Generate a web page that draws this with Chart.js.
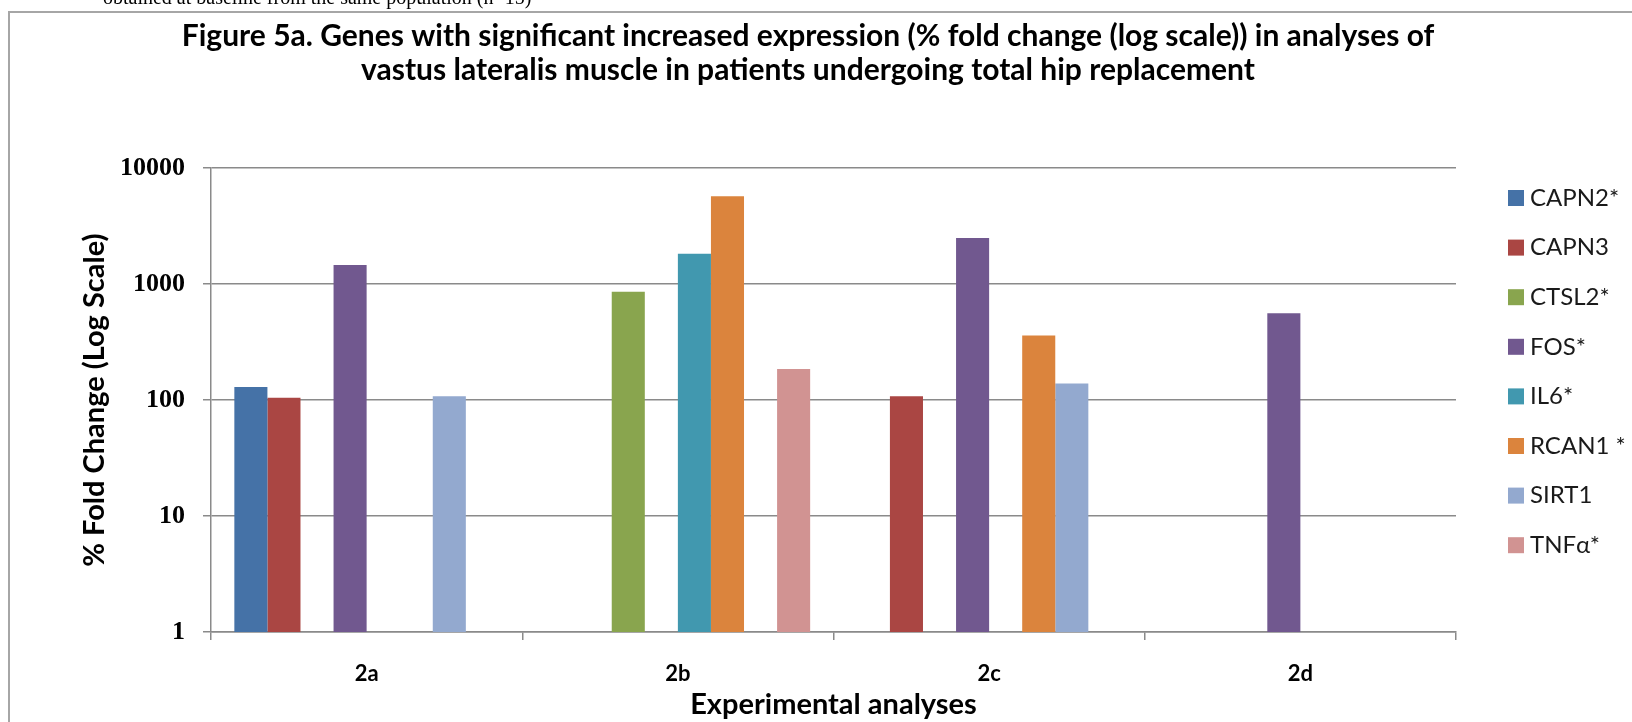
<!DOCTYPE html>
<html>
<head>
<meta charset="utf-8">
<script src="https://cdn.jsdelivr.net/npm/chart.js@4.4.0/dist/chart.umd.min.js"></script>
<style>
  html, body { margin: 0; padding: 0; background: #fff; overflow: hidden; }
  #wrap { position: relative; width: 1632px; height: 722px; }
  #note { position: absolute; left: 103px; top: -13px; font: 20px "Liberation Serif", serif; line-height: 20px; color: #000; white-space: nowrap; }
  #frame { position: absolute; left: 8px; top: 11px; width: 1700px; height: 800px; border: 2px solid #a6a6a6; pointer-events: none; }
  canvas { position: absolute; left: 0; top: 0; }
</style>
</head>
<body>
<div id="wrap">
  <canvas id="myChart" width="1632" height="722"></canvas>
  <div id="frame"></div>
  <div id="note">obtained at baseline from the same population (n=15)</div>
</div>
<script>
const categories = ["2a", "2b", "2c", "2d"];
const genes = ["CAPN2*", "CAPN3", "CTSL2*", "FOS*", "IL6*", "RCAN1 *", "SIRT1", "TNFα*"];
const capn2 = [130, null, null, null];
const capn3 = [105, null, 108, null];
const ctsl2 = [null, 860, null, null];
const fos = [1460, null, 2500, 560];
const il6 = [null, 1830, null, null];
const rcan1 = [null, 5740, 360, null];
const sirt1 = [108, null, 139, null];
const tnfa = [null, 185, null, null];
const yTicks = [1, 10, 100, 1000, 10000];
const colors = ["#4572A7", "#AA4643", "#89A54E", "#71588F", "#4198AF", "#DB843D", "#93A9CF", "#D19392"];

const series = [capn2, capn3, ctsl2, fos, il6, rcan1, sirt1, tnfa];
const gridColor = "#8a8a8a";

// legend drawn to the right of the plot, Excel style
const sideLegend = {
  id: "sideLegend",
  afterDraw(chart) {
    const ctx = chart.ctx;
    const x = chart.chartArea.right + 52;
    ctx.save();
    ctx.font = "24px Lato";
    ctx.textBaseline = "middle";
    ctx.textAlign = "left";
    chart.data.datasets.forEach((ds, i) => {
      const y = 198 + i * 49.6;
      ctx.fillStyle = ds.backgroundColor;
      ctx.fillRect(x, y - 8, 16, 16);
      ctx.fillStyle = "#1a1a1a";
      ctx.fillText(ds.label, x + 22, y);
    });
    ctx.restore();
  },
};

const ctx = document.getElementById("myChart").getContext("2d");
const myChart = new Chart(ctx, {
  type: "bar",
  data: {
    labels: categories,
    datasets: series.map((values, i) => ({
      label: genes[i],
      data: values,
      backgroundColor: colors[i],
      borderWidth: 0,
    })),
  },
  options: {
    responsive: false,
    animation: false,
    layout: { padding: { left: 0, right: 16, top: 0, bottom: 0 } },
    datasets: { bar: { categoryPercentage: 0.85, barPercentage: 1 } },
    plugins: {
      legend: { display: false },
      tooltip: { enabled: false },
      title: {
        display: true,
        text: [
          "Figure 5a. Genes with significant increased expression (% fold change (log scale)) in analyses of",
          "vastus lateralis muscle in patients undergoing total hip replacement",
        ],
        color: "#000",
        font: { family: "Lato", weight: "bold", size: 30, lineHeight: 1.12 },
        padding: { top: 20, bottom: 81 },
      },
    },
    scales: {
      x: {
        grid: { offset: true, drawOnChartArea: false, color: gridColor, lineWidth: 1.5, tickLength: 8 },
        border: { color: gridColor, width: 1.5 },
        ticks: { color: "#000", font: { family: "Lato", weight: "bold", size: 22 }, padding: 21 },
        title: {
          display: true,
          text: "Experimental analyses",
          color: "#000",
          font: { family: "Lato", weight: "bold", size: 29 },
          padding: { top: 0, bottom: 0 },
        },
        afterFit(scale) {
          scale.height = 90;
        },
      },
      y: {
        type: "logarithmic",
        min: 1,
        max: 10000,
        afterBuildTicks(scale) {
          scale.ticks = yTicks.map((v) => ({ value: v }));
        },
        grid: { color: gridColor, lineWidth: 1.5, tickLength: 8 },
        border: { color: gridColor, width: 1.5 },
        ticks: {
          callback: (v) => String(v),
          color: "#000",
          font: { family: "Liberation Serif", weight: "bold", size: 26 },
          padding: 18,
        },
        title: {
          display: true,
          text: "% Fold Change (Log Scale)",
          color: "#000",
          font: { family: "Lato", weight: "bold", size: 29 },
          padding: { top: 77, bottom: 5 },
        },
        afterFit(scale) {
          scale.width = 211;
        },
      },
      // empty axis that only reserves room for the side legend
      legendSpace: {
        position: "right",
        type: "linear",
        grid: { display: false },
        border: { display: false },
        ticks: { display: false },
        afterFit(scale) {
          scale.width = 160;
        },
      },
    },
  },
  plugins: [sideLegend],
});
</script>
</body>
</html>
